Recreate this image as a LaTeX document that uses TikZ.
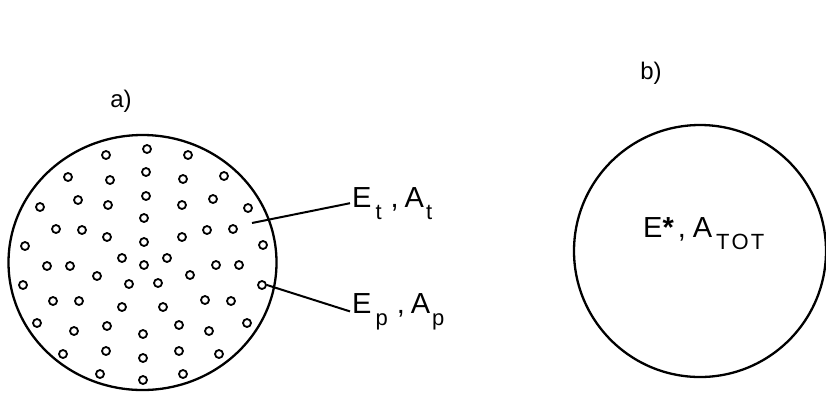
\documentclass[tikz,border=0pt]{standalone}
\usepackage{fontspec}
\setmainfont{Liberation Sans}
\usepackage{tikz}
\newcommand\lowtext[1]{\raisebox{-0.42em}{\fontsize{22}{24}\selectfont #1}}
\begin{document}
\begin{tikzpicture}[x=1pt,y=-1pt,
  disc/.style={line width=2.3pt},
  pore/.style={circle,draw,line width=1.8pt,minimum size=8pt,inner sep=0pt},
  lead/.style={line width=2pt},
  tag/.style={font=\fontsize{24}{26}\selectfont},
  lbl/.style={anchor=base west,inner sep=2pt,font=\fontsize{29}{32}\selectfont}]
\useasboundingbox (0,0) rectangle (826,392);
\node[tag] (tag a) at (121,101) {a)};
\node[tag] (tag b) at (651,73) {b)};
\draw[disc] (142.5,262.5) ellipse [x radius=134, y radius=127.5];
\draw[disc] (700,251) circle [radius=126];
\foreach \x/\y in %
{147/149,106/155,188/155,68/177,146/172,110/180,183/179,224/176,
 40/207,78/200,108/205,146/196,182/205,213/199,248/208,144/218,
 56/229,82/230,107/237,144/242,182/237,207/230,233/229,25/246,263/245,
 122/258,167/258,47/266,70/266,144/265,216/265,239/265,
 97/276,190/275,23/285,129/284,158/283,
 53/301,79/301,122/307,163/307,205/300,231/301,
 37/323,74/331,107/326,143/334,179/325,209/331,247/323,
 63/354,106/351,143/358,179/351,219/354,100/374,143/380,183/374} {
   \node[pore] at (\x,\y) {};
}
\node[pore] (pore p) at (262,285) {};
\coordinate (tip t) at (252,223);
\node[lbl] (lbl t) at (350,207) {E\hspace{4pt}\lowtext{t}\hspace{9pt},\hspace{6pt}A\hspace{2pt}\lowtext{t}};
\node[lbl] (lbl p) at (350,313) {E\hspace{4pt}\lowtext{p}\hspace{9pt},\hspace{6pt}A\hspace{2pt}\lowtext{p}};
\node[lbl] (lbl tot) at (641,237) {E\textbf{*}\hspace{4pt},\hspace{7pt}A\hspace{4pt}\lowtext{T\hspace{2pt}O\hspace{2pt}T}};
\draw[lead] (tip t) -- (lbl t.west);
\draw[lead] (pore p.east) -- (lbl p.west);
\end{tikzpicture}
\end{document}
